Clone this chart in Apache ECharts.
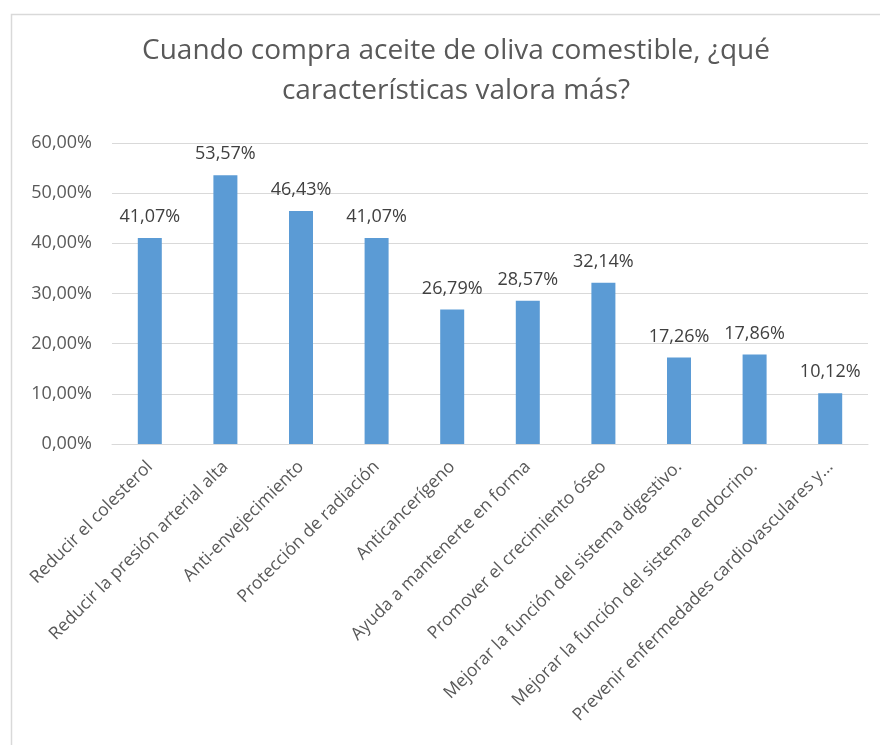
<!DOCTYPE html>
<html><head><meta charset="utf-8">
<script src="https://cdn.jsdelivr.net/npm/echarts@6/dist/echarts.min.js"></script>
<style>html,body{margin:0;padding:0;background:#fff}#c{width:880px;height:745px}</style>
</head><body><div id="c"></div>
<script>
const titleText = "Cuando compra aceite de oliva comestible, ¿qué\ncaracterísticas valora más?";
const categories = [
  "Reducir el colesterol",
  "Reducir la presión arterial alta",
  "Anti-envejecimiento",
  "Protección de radiación",
  "Anticancerígeno",
  "Ayuda a mantenerte en forma",
  "Promover el crecimiento óseo",
  "Mejorar la función del sistema digestivo.",
  "Mejorar la función del sistema endocrino.",
  "Prevenir enfermedades cardiovasculares y..."
];
const values = [41.07, 53.57, 46.43, 41.07, 26.79, 28.57, 32.14, 17.26, 17.86, 10.12];
const yTicks = [0, 10, 20, 30, 40, 50, 60];

const fmt = v => v.toFixed(2).replace('.', ',') + '%';
const FONT = '"Open Sans", "Noto Sans", sans-serif';
const chart = echarts.init(document.getElementById('c'), null, {renderer: 'canvas'});
chart.setOption({
  animation: false,
  backgroundColor: '#fff',
  graphic: [{
    type: 'rect', left: 9, top: 12,
    shape: {width: 880, height: 745},
    style: {fill: 'none', stroke: '#d9d9d9', lineWidth: 1.5},
    silent: true
  }],
  title: {
    text: titleText,
    left: 451, top: 26, textAlign: 'center',
    textStyle: {fontFamily: FONT, fontSize: 28, fontWeight: 'normal', color: '#595959', lineHeight: 40}
  },
  grid: {left: 112, right: 12, top: 143, bottom: 301, containLabel: false},
  xAxis: {
    type: 'category',
    data: categories,
    axisTick: {show: false},
    axisLine: {lineStyle: {color: '#d9d9d9', width: 1}},
    axisLabel: {rotate: 45, interval: 0, margin: 20, fontFamily: FONT, fontSize: 17.5, color: '#595959'}
  },
  yAxis: {
    type: 'value',
    min: yTicks[0], max: yTicks[yTicks.length - 1], interval: 10,
    axisLine: {show: false}, axisTick: {show: false},
    splitLine: {lineStyle: {color: '#d9d9d9', width: 1}},
    axisLabel: {formatter: fmt, margin: 20, fontFamily: FONT, fontSize: 18, color: '#595959'}
  },
  series: [{
    type: 'bar',
    data: values,
    barWidth: 24,
    itemStyle: {color: '#5b9bd5'},
    label: {show: true, position: 'top', distance: 12, formatter: p => fmt(p.value),
      fontFamily: FONT, fontSize: 18, color: '#404040'}
  }]
});
</script></body></html>
